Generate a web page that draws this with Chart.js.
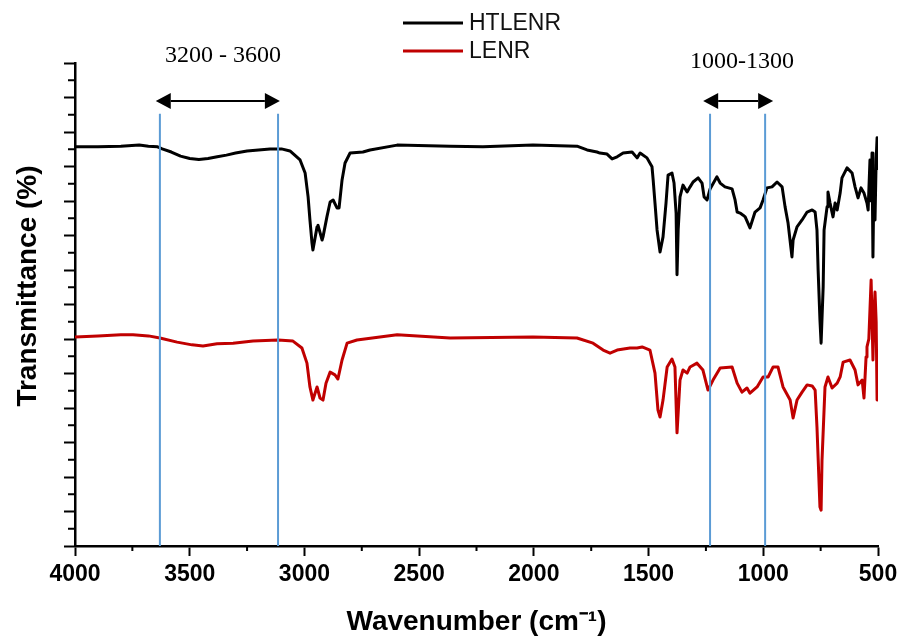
<!DOCTYPE html>
<html>
<head>
<meta charset="utf-8">
<script src="https://cdn.jsdelivr.net/npm/chart.js@4.4.1/dist/chart.umd.min.js"></script>
<style>
  html, body { margin: 0; padding: 0; background: #fff; }
  #wrap { width: 903px; height: 639px; position: relative; }
</style>
</head>
<body>
<div id="wrap"><canvas id="ftirChart"></canvas></div>
<script>
// FTIR spectra (wavenumber in cm-1, transmittance in arbitrary %)
const seriesLabels = ['HTLENR', 'LENR'];
const seriesColors = ['#000000', '#C00000'];

const htlenrWn = [4000, 3900, 3800, 3720, 3680, 3640, 3620, 3580, 3540, 3500, 3460, 3420, 3380, 3340, 3300, 3250, 3200, 3150, 3100, 3063,
  3019, 2997, 2984, 2976, 2967, 2963, 2945, 2941, 2923, 2919, 2902, 2888, 2875, 2858, 2849, 2836, 2823, 2801, 2745, 2714,
  2596, 2365, 2222, 2004, 1812, 1768, 1725, 1712, 1681, 1659, 1637, 1611, 1572, 1550, 1537, 1507, 1485, 1480, 1472, 1463,
  1450, 1437, 1424, 1415, 1398, 1389, 1380, 1376, 1371, 1363, 1350, 1332, 1319, 1306, 1284, 1267, 1258, 1245, 1232, 1202,
  1188, 1167, 1136, 1123, 1114, 1101, 1088, 1079, 1058, 1036, 1014, 1001, 984, 962, 940, 918, 905, 892, 875, 870,
  853, 831, 809, 787, 774, 766, 761, 753, 748, 739, 735, 722, 718, 709, 696, 687, 678, 665, 657, 635,
  613, 600, 587, 574, 561, 548, 543, 535, 530, 526, 522, 518, 513, 508, 504, 500];
const htlenrT = [115.7, 115.7, 115.9, 116.2, 115.9, 115.7, 115.1, 114.2, 113.0, 112.3, 112.0, 112.3, 112.8, 113.3, 113.9, 114.5, 114.8, 115.1, 115.1, 114.5,
  111.9, 108.1, 101.2, 94.5, 87.8, 85.8, 92.5, 93.0, 88.7, 89.6, 95.4, 99.7, 100.3, 98.0, 98.0, 106.1, 111.0, 113.9, 114.2, 114.8,
  116.2, 115.9, 115.7, 116.2, 115.9, 114.8, 114.2, 113.9, 113.6, 112.2, 112.8, 113.9, 114.2, 112.5, 113.9, 112.5, 109.9, 106.1, 99.4, 91.6,
  85.2, 89.6, 99.4, 107.5, 108.1, 105.2, 96.5, 78.6, 91.6, 101.2, 104.6, 102.6, 104.1, 105.5, 106.7, 105.2, 101.2, 100.3, 103.5, 107.0,
  105.2, 104.1, 103.5, 100.3, 96.8, 96.5, 95.9, 95.4, 92.2, 96.8, 98.0, 100.3, 103.8, 104.1, 105.5, 104.1, 98.3, 93.6, 83.8, 88.7,
  92.5, 94.5, 96.8, 97.4, 96.8, 91.6, 80.0, 65.5, 58.8, 75.1, 91.6, 98.3, 102.6, 99.4, 95.4, 99.4, 97.4, 102.3, 106.7, 109.6,
  108.1, 104.1, 100.9, 103.8, 102.3, 99.4, 97.4, 111.9, 100.0, 113.9, 83.8, 105.0, 94.5, 112.0, 118.3, 109.0];

const lenrWn = [4000, 3900, 3800, 3747, 3680, 3630, 3555, 3490, 3442, 3381, 3311, 3224, 3115, 3050, 3011, 2989, 2976, 2963, 2945, 2932,
  2919, 2906, 2888, 2867, 2854, 2836, 2814, 2771, 2596, 2365, 2004, 1812, 1742, 1698, 1668, 1637, 1581, 1550, 1528, 1494,
  1472, 1459, 1450, 1437, 1419, 1398, 1385, 1376, 1363, 1350, 1332, 1319, 1289, 1263, 1241, 1219, 1188, 1136, 1114, 1093,
  1071, 1058, 1027, 1001, 979, 957, 936, 914, 883, 870, 853, 831, 809, 787, 774, 766, 753, 748, 744, 731,
  718, 700, 678, 665, 652, 622, 600, 587, 569, 561, 552, 548, 540, 530, 525, 522, 517, 513, 508, 504, 500];
const lenrT = [60.6, 60.9, 61.2, 61.2, 60.9, 60.3, 59.1, 58.3, 58.0, 58.6, 58.8, 59.4, 59.7, 59.4, 57.4, 53.0, 46.1, 42.3, 46.1, 42.9,
  42.3, 47.2, 50.4, 49.6, 48.4, 53.9, 58.8, 59.7, 61.2, 60.3, 60.6, 60.3, 58.8, 56.8, 55.9, 56.8, 57.4, 57.4, 57.7, 56.8,
  50.1, 39.4, 37.4, 42.3, 51.9, 54.2, 51.9, 32.8, 48.1, 51.0, 50.1, 51.9, 53.0, 51.0, 45.2, 48.1, 51.6, 51.9, 47.2, 44.6,
  45.8, 44.3, 46.1, 49.0, 49.0, 51.9, 51.9, 46.1, 42.3, 37.1, 42.3, 44.6, 46.7, 46.4, 45.2, 34.5, 11.3, 10.4, 24.9, 46.1,
  49.0, 45.8, 47.2, 49.0, 53.3, 53.9, 51.0, 46.7, 48.1, 42.9, 54.8, 57.7, 60.0, 77.1, 63.0, 53.9, 68.0, 73.6, 65.0, 42.3, 53.9];

// blue marker lines and the two range arrows
const markerWn = [3630, 3115, 1232, 992];
const markerTop = 125.3;
const rangeLabels = ['3200 - 3600', '1000-1300'];
const rangeFrom = [3648, 1262];
const rangeTo = [3107, 957];
const rangeArrowY = 129;
const rangeLabelWn = [3355, 1093];
const rangeLabelY = [140.3, 138.6];

const FONT = "'Liberation Sans', Arial, sans-serif";

const toPoints = (xs, ys) => xs.map((w, i) => ({ x: w, y: ys[i] }));

const ftirDecor = {
  id: 'ftirDecor',
  afterDraw(chart) {
    const { ctx, scales: { x, y } } = chart;
    ctx.save();

    // minor ticks
    ctx.strokeStyle = '#000';
    ctx.lineWidth = 2;
    ctx.beginPath();
    for (let v = 750; v < 4000; v += 500) {
      const px = x.getPixelForValue(v);
      ctx.moveTo(px, y.bottom);
      ctx.lineTo(px, y.bottom + 5);
    }
    for (let v = 5; v < 140; v += 10) {
      const py = y.getPixelForValue(v);
      ctx.moveTo(x.left - 7, py);
      ctx.lineTo(x.left, py);
    }
    ctx.stroke();

    // double-headed arrows + range labels
    const head = 15, half = 8;
    ctx.fillStyle = '#000';
    rangeFrom.forEach((from, i) => {
      const x1 = x.getPixelForValue(from);
      const x2 = x.getPixelForValue(rangeTo[i]);
      const py = y.getPixelForValue(rangeArrowY);
      ctx.lineWidth = 2;
      ctx.beginPath();
      ctx.moveTo(x1 + head, py);
      ctx.lineTo(x2 - head, py);
      ctx.stroke();
      ctx.beginPath();
      ctx.moveTo(x1, py);
      ctx.lineTo(x1 + head, py - half);
      ctx.lineTo(x1 + head, py + half);
      ctx.closePath();
      ctx.moveTo(x2, py);
      ctx.lineTo(x2 - head, py - half);
      ctx.lineTo(x2 - head, py + half);
      ctx.closePath();
      ctx.fill();

      ctx.font = "24px 'Liberation Serif', 'Times New Roman', serif";
      ctx.textAlign = 'center';
      ctx.textBaseline = 'alphabetic';
      ctx.fillText(rangeLabels[i], x.getPixelForValue(rangeLabelWn[i]), y.getPixelForValue(rangeLabelY[i]));
    });

    // legend
    ctx.font = '23px ' + FONT;
    ctx.textAlign = 'left';
    ctx.textBaseline = 'middle';
    seriesLabels.forEach((lab, i) => {
      const ly = 23 + i * 28;
      ctx.strokeStyle = seriesColors[i];
      ctx.lineWidth = 3;
      ctx.beginPath();
      ctx.moveTo(403, ly);
      ctx.lineTo(463, ly);
      ctx.stroke();
      ctx.fillStyle = '#111';
      ctx.fillText(lab, 469, ly + 1);
    });

    // y title
    ctx.translate(28, 286);
    ctx.rotate(-Math.PI / 2);
    ctx.font = 'bold 28px ' + FONT;
    ctx.textAlign = 'center';
    ctx.textBaseline = 'middle';
    ctx.fillStyle = '#000';
    ctx.fillText('Transmittance (%)', 0, 0);

    ctx.restore();
  }
};

const datasets = [
  {
    label: seriesLabels[0],
    data: toPoints(htlenrWn, htlenrT),
    borderColor: seriesColors[0],
    borderWidth: 3,
    pointRadius: 0,
    tension: 0,
    borderJoinStyle: 'round',
    order: 1,
  },
  {
    label: seriesLabels[1],
    data: toPoints(lenrWn, lenrT),
    borderColor: seriesColors[1],
    borderWidth: 3,
    pointRadius: 0,
    tension: 0,
    borderJoinStyle: 'round',
    order: 1,
  },
  ...markerWn.map(w => ({
    label: 'marker',
    data: [{ x: w, y: 0 }, { x: w, y: markerTop }],
    borderColor: '#5B9BD5',
    borderWidth: 2,
    pointRadius: 0,
    order: 0,
  })),
];

new Chart(document.getElementById('ftirChart'), {
  type: 'line',
  data: { datasets },
  options: {
    responsive: true,
    maintainAspectRatio: false,
    animation: false,
    layout: { padding: { top: 63, right: 25, left: 0, bottom: 0 } },
    plugins: {
      legend: { display: false },
      tooltip: { enabled: false },
    },
    scales: {
      x: {
        type: 'linear',
        reverse: true,
        min: 500,
        max: 4000,
        border: { color: '#000', width: 2.5 },
        grid: { drawOnChartArea: false, tickLength: 10, tickWidth: 2, tickColor: '#000' },
        ticks: {
          stepSize: 500,
          autoSkip: false,
          maxRotation: 0,
          padding: 5,
          color: '#000',
          font: { family: FONT, size: 23, weight: 'bold' },
          callback: v => String(v),
        },
        title: {
          display: true,
          text: 'Wavenumber (cm\u207B\u00B9)',
          color: '#000',
          font: { family: FONT, size: 28, weight: 'bold' },
          padding: { top: 0, bottom: 0 },
        },
        afterFit: s => { s.height = 93; },
      },
      y: {
        min: 0,
        max: 140,
        border: { color: '#000', width: 2.5 },
        grid: { drawOnChartArea: false, tickLength: 11, tickWidth: 2, tickColor: '#000' },
        ticks: { stepSize: 10, display: false },
        afterFit: s => { s.width = 75; },
      },
    },
  },
  plugins: [ftirDecor],
});
</script>
</body>
</html>
